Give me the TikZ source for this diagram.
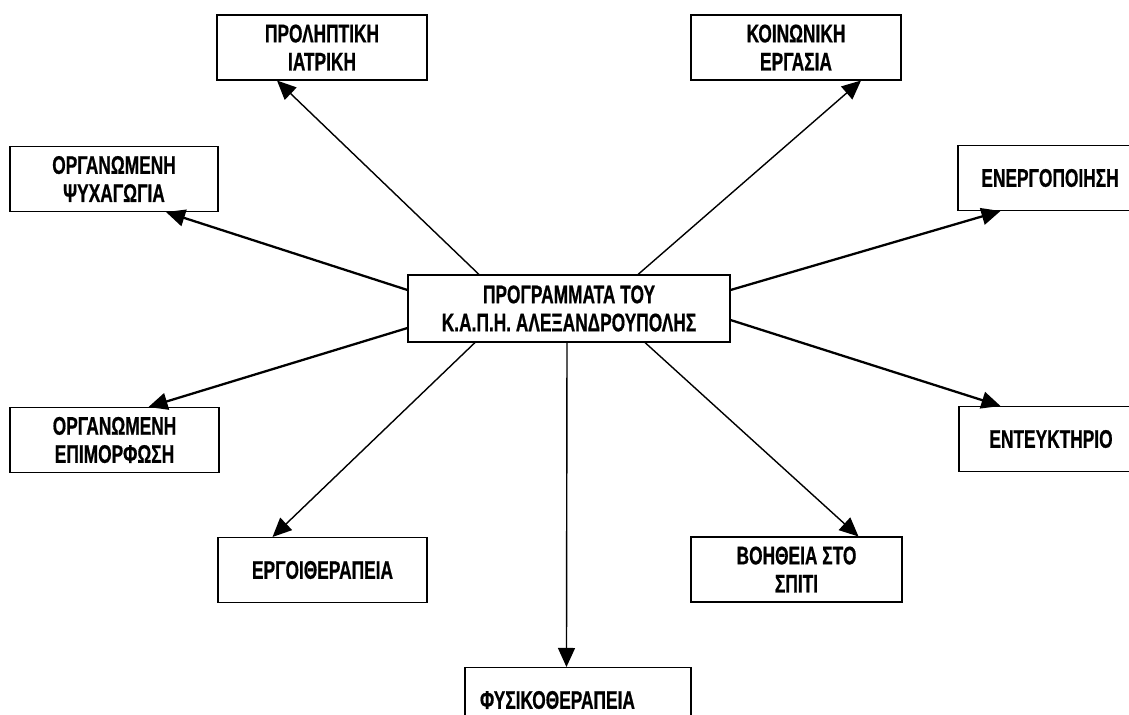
\documentclass[tikz,border=0pt]{standalone}
\usepackage{fontspec}
\setmainfont{Liberation Sans}[FakeStretch=0.68, BoldFeatures={FakeBold=0.6}]
\usetikzlibrary{arrows.meta}

\tikzset{
  progbox/.style={draw, line width=0.6pt, inner sep=0pt, minimum width=4.2cm, minimum height=1.3cm,
    align=center, font=\fontsize{14.5}{16}\selectfont\bfseries},
  link/.style={-{Triangle[length=0.38cm, width=0.34cm]}, line width=0.8pt},
  boldlink/.style={link, line width=1.3pt},
}

\begin{document}
\begin{tikzpicture}
    \useasboundingbox (0,0) rectangle (22.58,-14.28);
    \clip (0,0) rectangle (22.58,-14.28);

    % centre
    \node[progbox, minimum width=6.44cm, minimum height=1.34cm] (prog) at (11.38,-6.17) {ΠΡΟΓΡΑΜΜΑΤΑ ΤΟΥ\\Κ.Α.Π.Η. ΑΛΕΞΑΝΔΡΟΥΠΟΛΗΣ};

    % programmes
    \node[progbox] (prolipsi) at (6.44,-0.95) {ΠΡΟΛΗΠΤΙΚΗ\\ΙΑΤΡΙΚΗ};
    \node[progbox, minimum width=4.16cm] (psychagogia) at (2.28,-3.58) {ΟΡΓΑΝΩΜΕΝΗ\\ΨΥΧΑΓΩΓΙΑ};
    \node[progbox] (koinonia) at (15.92,-0.95) {ΚΟΙΝΩΝΙΚΗ\\ΕΡΓΑΣΙΑ};
    \node[progbox, minimum width=3.68cm] (energo) at (21.0,-3.56) {ΕΝΕΡΓΟΠΟΙΗΣΗ};
    \node[progbox, minimum width=3.68cm] (enteyk) at (21.02,-8.78) {ΕΝΤΕΥΚΤΗΡΙΟ};
    \node[progbox, minimum width=4.18cm] (epimorfosi) at (2.29,-8.8) {ΟΡΓΑΝΩΜΕΝΗ\\ΕΠΙΜΟΡΦΩΣΗ};
    \node[progbox, minimum width=4.18cm] (ergo) at (6.45,-11.4) {ΕΡΓΟΙΘΕΡΑΠΕΙΑ};
    \node[progbox, minimum width=4.22cm] (voitheia) at (15.93,-11.39) {ΒΟΗΘΕΙΑ ΣΤΟ\\ΣΠΙΤΙ};
    \node[progbox, minimum width=4.52cm, text width=3.92cm, inner xsep=0.3cm, align=left] (fysio) at (11.56,-14.0) {ΦΥΣΙΚΟΘΕΡΑΠΕΙΑ};

    % arrows
    \draw[link] ([xshift=-1.8cm]prog.north) -- ([xshift=-0.9cm]prolipsi.south);
    \draw[boldlink] ([yshift=0.37cm]prog.west) -- ([xshift=1.04cm]psychagogia.south);
    \draw[link] ([xshift=1.38cm]prog.north) -- ([xshift=1.3cm]koinonia.south);
    \draw[boldlink] ([yshift=0.37cm]prog.east) -- ([xshift=0.86cm]energo.south west);
    \draw[boldlink] ([yshift=-0.23cm]prog.east) -- ([xshift=0.84cm]enteyk.north west);
    \draw[boldlink] ([yshift=-0.39cm]prog.west) -- ([xshift=0.68cm]epimorfosi.north);
    \draw[link] ([xshift=-1.88cm]prog.south) -- ([xshift=-1.0cm]ergo.north);
    \draw[link] ([xshift=1.52cm]prog.south) -- ([xshift=1.24cm]voitheia.north);
    \draw[link] ([xshift=-0.04cm]prog.south) -- ([xshift=2.04cm]fysio.north west);
\end{tikzpicture}
\end{document}
